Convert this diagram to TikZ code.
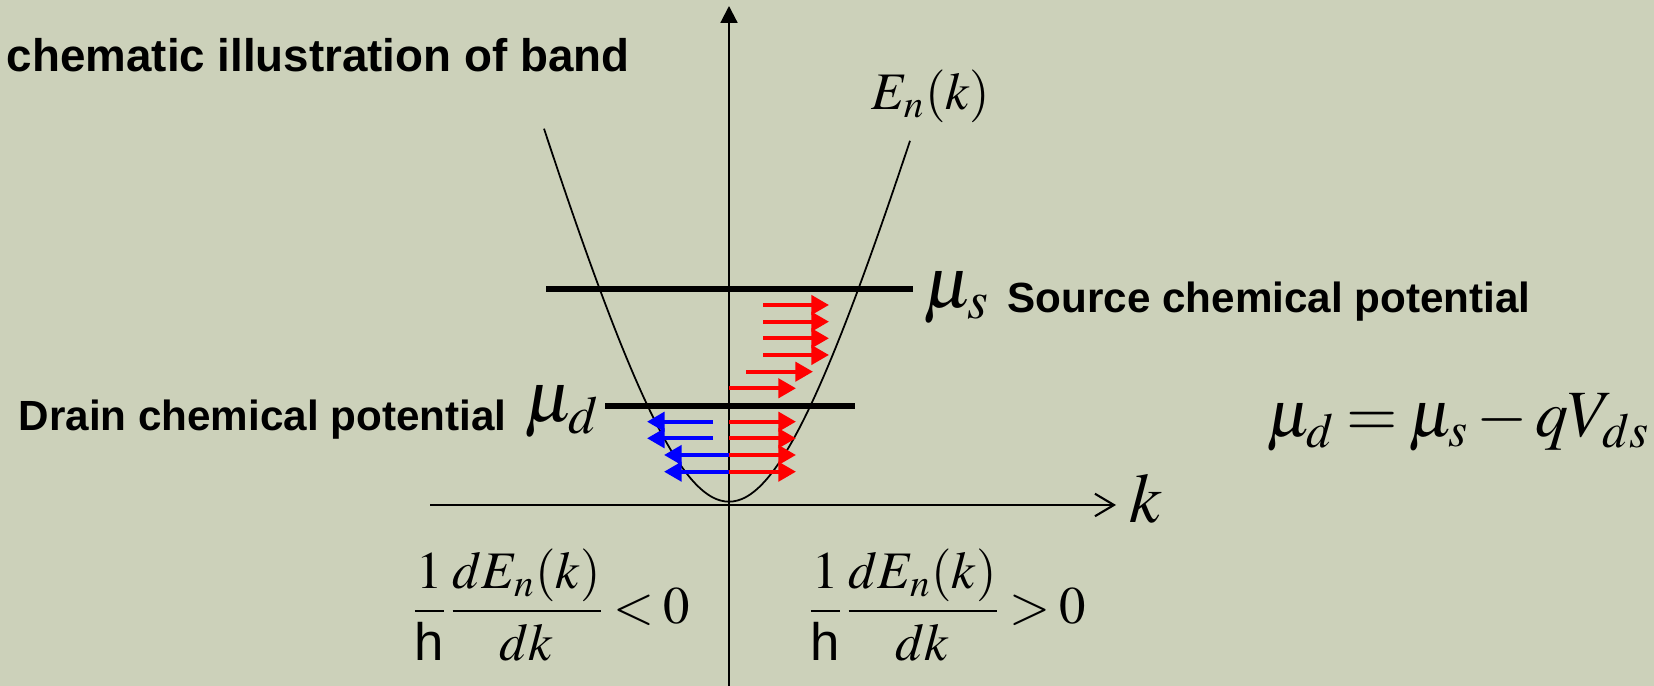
\documentclass[tikz,border=0pt]{standalone}
\usepackage{mathptmx}
\usepackage[no-math]{fontspec}
\newfontfamily\bandsans{Liberation Sans}
\definecolor{SlideBg}{HTML}{CCD1BA}
\definecolor{FlowRed}{HTML}{FF0000}
\definecolor{FlowBlue}{HTML}{0000FF}
\usetikzlibrary{arrows.meta}

\begin{document}
\begin{tikzpicture}[x=0.01cm,y=-0.01cm,
    flow/.style={line width=1.15pt,-{Triangle[length=5pt,width=5.4pt]}},
    level/.style={line width=1.7pt},
    lbl/.style={anchor=base west,inner sep=0pt,font=\bandsans\bfseries\fontsize{12}{14}\selectfont},
    eqn/.style={anchor=base west,inner sep=0pt}]
  \fill[SlideBg] (0,0) rectangle (1654,686);
  \useasboundingbox (0,0) rectangle (1654,686);
  \draw[line width=0.6pt,-{Triangle[length=4.8pt,width=4.8pt]}] (729,686) -- (729,6);
  \draw[line width=0.6pt,-{Straight Barb[length=5.4pt,width=6.4pt]}] (430,505) -- (1116,505);
  \draw[line width=0.5pt] plot[domain=-185:181,samples=90,smooth]
       ({729+\x},{501.7-374*(sqrt(1+(\x/107)*(\x/107))-1)});
  \draw[level] (546,289) -- (913,289);
  \draw[level] (605,406) -- (855,406);
  \foreach \y in {305,321.7,338.3,355}
    \draw[flow,FlowRed] (763,\y) -- (829,\y);
  \draw[flow,FlowRed] (746,371.7) -- (813,371.7);
  \foreach \y in {388.3,421.7,438.3,455,471.7}
    \draw[flow,FlowRed] (729,\y) -- (796,\y);
  \foreach \y in {421.7,438.3}
    \draw[flow,FlowBlue] (713,\y) -- (647,\y);
  \foreach \y in {455,471.7}
    \draw[flow,FlowBlue] (729,\y) -- (664,\y);
  \node[lbl,anchor=base east,font=\bandsans\bfseries\fontsize{13}{15}\selectfont] (title) at (630,72) {chematic illustration of band};
  \node[lbl] (srclbl) at (1007,313) {Source chemical potential};
  \node[lbl] (drnlbl) at (18,431) {Drain chemical potential};
  \node[eqn,font=\fontsize{20.5}{25}\selectfont] (musl) at (923,308) {$\mu_s$};
  \node[eqn,anchor=base east,font=\fontsize{20.5}{25}\selectfont] (mudl) at (600,422) {$\mu_d$};
  \node[eqn,font=\fontsize{15}{18}\selectfont] (enk) at (871,110) {$E_n(k)$};
  \node[eqn,font=\fontsize{20}{24}\selectfont] (klbl) at (1129,523) {$k$};
  \node[eqn,font=\fontsize{15}{18}\selectfont] (velneg) at (410,624)
       {$\thickmuskip=3mu\displaystyle\frac{1}{\mbox{\bandsans h}}\frac{dE_n(k)}{dk}<0$};
  \node[eqn,font=\fontsize{15}{18}\selectfont] (velpos) at (806,624)
       {$\thickmuskip=3mu\displaystyle\frac{1}{\mbox{\bandsans h}}\frac{dE_n(k)}{dk}>0$};
  \node[eqn,font=\fontsize{18.8}{23}\selectfont] (mueq) at (1266,437)
       {$\thickmuskip=3mu\medmuskip=2mu\mu_d=\mu_s-qV_{ds}$};
\end{tikzpicture}
\end{document}
